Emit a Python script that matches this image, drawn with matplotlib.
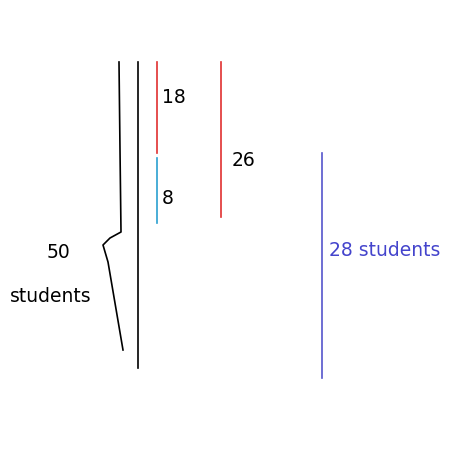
import matplotlib
matplotlib.use("Agg")
import matplotlib.pyplot as plt

# segment data: x positions, y ranges (pixel space of the sketch), colours
seg_x = [138, 157, 157, 221, 322]
seg_y0 = [62, 62, 158, 62, 153]
seg_y1 = [368, 153, 223, 217, 378]
seg_colors = ["black", "#e03030", "#2a9fd0", "#e03030", "#5555cc"]

brace_x = [119, 120, 121, 110, 103, 108, 123]
brace_y = [62, 150, 232, 238, 245, 262, 350]

labels = ["18", "8", "26", "50", "students", "28 students"]
label_x = [162, 162, 232, 47, 10, 329]
label_y = [97, 198, 160, 253, 297, 250]
label_colors = ["black", "black", "black", "black", "black", "#4444cc"]

fig = plt.figure(figsize=(4.74, 4.74), dpi=100)
ax = fig.add_axes([0, 0, 1, 1])
ax.set_xlim(0, 474)
ax.set_ylim(474, 0)
ax.axis("off")

for x, a, b, c in zip(seg_x, seg_y0, seg_y1, seg_colors):
    ax.plot([x, x], [a, b], color=c, lw=1.2)
ax.plot(brace_x, brace_y, color="black", lw=1.2)
for t, x, y, c in zip(labels, label_x, label_y, label_colors):
    ax.text(x, y, t, color=c, fontsize=13.5, va="center", ha="left", family="DejaVu Sans")

fig.savefig("out.png", dpi=100, facecolor="white")
